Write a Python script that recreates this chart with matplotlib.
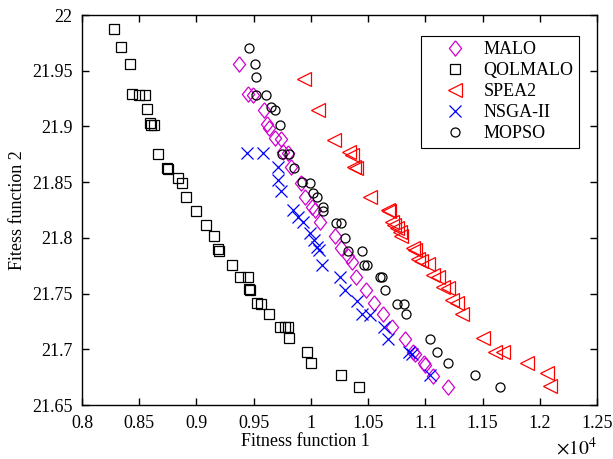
import matplotlib
matplotlib.use("Agg")
import matplotlib.pyplot as plt
from matplotlib.ticker import MultipleLocator, FuncFormatter

plt.rcParams['font.family'] = ['Liberation Serif', 'DejaVu Serif']
plt.rcParams['mathtext.fontset'] = 'stix'
plt.rcParams['font.size'] = 13

# Pareto fronts (f1, f2) for each algorithm
malo_f1 = [9370, 9450, 9490, 9590, 9620, 9630, 9690, 9740, 9760, 9800, 9830,
           9910, 9950, 10010, 10040, 10080, 10210, 10260, 10320, 10360, 10390,
           10480, 10550, 10630, 10710, 10820, 10890, 10910, 10990, 11000,
           11070, 11200]
malo_f2 = [21.956, 21.929, 21.928, 21.915, 21.902, 21.899, 21.890, 21.889,
           21.877, 21.876, 21.864, 21.849, 21.837, 21.828, 21.825, 21.814,
           21.802, 21.791, 21.784, 21.778, 21.765, 21.753, 21.742, 21.732,
           21.720, 21.709, 21.698, 21.696, 21.688, 21.686, 21.676, 21.666]

qolmalo_f1 = [8280, 8340, 8420, 8440, 8500, 8550, 8570, 8590, 8600, 8630,
              8660, 8740, 8750, 8840, 8870, 8910, 9000, 9080, 9150, 9190,
              9200, 9310, 9380, 9450, 9460, 9470, 9530, 9560, 9630, 9730,
              9770, 9800, 9810, 9970, 10000, 10260, 10420]
qolmalo_f2 = [21.987, 21.971, 21.956, 21.929, 21.928, 21.928, 21.916, 21.903,
              21.901, 21.901, 21.875, 21.863, 21.862, 21.854, 21.849, 21.837,
              21.824, 21.812, 21.802, 21.790, 21.788, 21.776, 21.765, 21.765,
              21.754, 21.753, 21.742, 21.741, 21.732, 21.720, 21.720, 21.720,
              21.710, 21.698, 21.688, 21.677, 21.666]

spea2_f1 = [9940, 10060, 10200, 10330, 10360, 10380, 10390, 10520, 10670,
            10680, 10710, 10730, 10750, 10780, 10790, 10890, 10910, 10940,
            10960, 11020, 11070, 11110, 11150, 11200, 11230, 11280, 11320,
            11500, 11610, 11680, 11890, 12060, 12090]
spea2_f2 = [21.943, 21.915, 21.888, 21.877, 21.874, 21.864, 21.863, 21.837,
            21.825, 21.824, 21.814, 21.812, 21.809, 21.805, 21.802, 21.791,
            21.789, 21.781, 21.779, 21.777, 21.767, 21.765, 21.756, 21.755,
            21.744, 21.742, 21.732, 21.710, 21.698, 21.698, 21.688, 21.679,
            21.667]

nsga2_f1 = [9440, 9580, 9710, 9710, 9740, 9840, 9890, 9930, 9990, 10030,
            10050, 10070, 10100, 10250, 10300, 10400, 10450, 10520, 10640,
            10670, 10860, 10880, 11040]
nsga2_f2 = [21.876, 21.876, 21.864, 21.852, 21.842, 21.825, 21.819, 21.814,
            21.804, 21.798, 21.792, 21.789, 21.776, 21.765, 21.753, 21.743,
            21.732, 21.731, 21.720, 21.709, 21.698, 21.696, 21.677]

mopso_f1 = [9460, 9510, 9520, 9520, 9610, 9650, 9690, 9730, 9750, 9810,
            9850, 9920, 9990, 10020, 10050, 10110, 10110, 10220, 10260,
            10300, 10320, 10450, 10460, 10490, 10600, 10620, 10650, 10750,
            10810, 10830, 11040, 11100, 11200, 11430, 11650]
mopso_f2 = [21.970, 21.956, 21.944, 21.928, 21.928, 21.917, 21.915, 21.901,
            21.875, 21.875, 21.863, 21.850, 21.849, 21.840, 21.837, 21.828,
            21.824, 21.813, 21.813, 21.800, 21.788, 21.788, 21.776, 21.776,
            21.765, 21.765, 21.753, 21.741, 21.741, 21.732, 21.709, 21.698,
            21.688, 21.677, 21.666]

diamond = [(0, 1), (0.8, 0), (0, -1), (-0.8, 0), (0, 1)]

fig = plt.figure(figsize=(6.13, 4.59), dpi=100)
ax = fig.add_axes([0.1338, 0.1176, 0.8401, 0.8497])

ax.plot(malo_f1, malo_f2, linestyle='none', marker=diamond, ms=11,
        mfc='none', mec='#D000D0', mew=0.9, label='MALO')
ax.plot(qolmalo_f1, qolmalo_f2, linestyle='none', marker='s', ms=7.2,
        mfc='none', mec='k', mew=0.9, label='QOLMALO')
ax.plot(spea2_f1, spea2_f2, linestyle='none', marker='<', ms=9.5,
        mfc='none', mec='#FF0000', mew=0.9, label='SPEA2')
ax.plot(nsga2_f1, nsga2_f2, linestyle='none', marker='x', ms=8,
        mec='#0000FF', mew=0.9, label='NSGA-II')
ax.plot(mopso_f1, mopso_f2, linestyle='none', marker='o', ms=6.5,
        mfc='none', mec='k', mew=0.9, label='MOPSO')

ax.set_xlim(8000, 12500)
ax.set_ylim(21.65, 22.0)
ax.xaxis.set_major_locator(MultipleLocator(500))
ax.yaxis.set_major_locator(MultipleLocator(0.05))
ax.xaxis.set_major_formatter(FuncFormatter(lambda v, p: f'{round(v / 1e4, 4):g}'))
ax.yaxis.set_major_formatter(FuncFormatter(lambda v, p: f'{round(v, 4):g}'))
ax.tick_params(direction='in', top=True, right=True, length=5, width=1,
               labelsize=13, pad=7)
for s in ax.spines.values():
    s.set_linewidth(1.0)

ax.text(1.0, -0.08, r'$\times 10^{4}$', transform=ax.transAxes,
        ha='right', va='top', fontsize=14)

ax.set_xlabel('Fitness function 1', fontsize=13)
ax.xaxis.set_label_coords(0.433, -0.072)
ax.set_ylabel('Fitess function 2', fontsize=13)

leg = ax.legend(loc='upper right', bbox_to_anchor=(0.965, 0.946),
                borderaxespad=0, numpoints=1, fancybox=False,
                edgecolor='k', framealpha=1, handlelength=3.1,
                handletextpad=0.05, borderpad=0.3, labelspacing=0.22)
leg.get_frame().set_linewidth(0.8)

fig.savefig('out.png', dpi=100)
